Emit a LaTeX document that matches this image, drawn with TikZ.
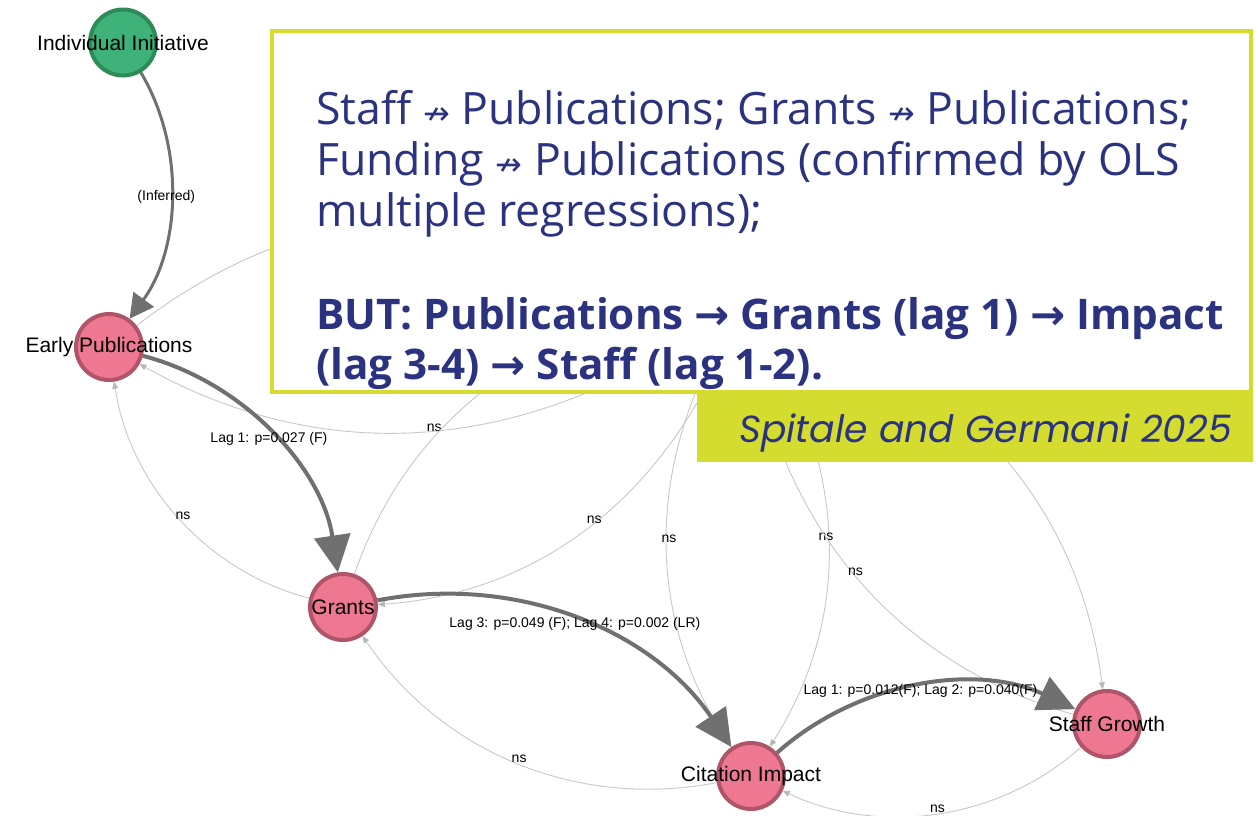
\documentclass[tikz,border=0pt]{standalone}
\usepackage{fontspec}
\setmainfont{Liberation Sans}
\newfontfamily\bodyfont{Open Sans}
\newfontfamily\citefont{Poppins}
\newfontfamily\symfont{DejaVu Sans}
\usetikzlibrary{arrows.meta,calc}

\definecolor{nodepink}{HTML}{EE7891}
\definecolor{nodepinkline}{HTML}{B05468}
\definecolor{nodegreen}{HTML}{3FB27A}
\definecolor{nodegreenline}{HTML}{2E8B57}
\definecolor{strongedge}{HTML}{707070}
\definecolor{weakedge}{HTML}{C8C8C8}
\definecolor{weaktip}{HTML}{B8B8B8}
\definecolor{lime}{HTML}{D4DC30}
\definecolor{navy}{HTML}{2B3380}

\pgfdeclarelayer{bglayer}
\pgfdeclarelayer{edgelayer}
\pgfsetlayers{bglayer,edgelayer,main}

\tikzset{
  vertex/.style={circle, minimum size=66pt, line width=4pt, inner sep=0pt},
  pinkv/.style={vertex, fill=nodepink, draw=nodepinkline},
  greenv/.style={vertex, fill=nodegreen, draw=nodegreenline},
  vname/.style={font=\fontsize{21}{24}\selectfont, text=black, inner sep=0pt},
  sigedge/.style={draw=strongedge, line width=4pt, -{Triangle[length=37pt,width=36pt]}},
  infedge/.style={draw=strongedge, line width=3pt, -{Triangle[length=24pt,width=25pt]}},
  nsedge/.style={draw=weakedge, line width=0.9pt, -{Triangle[length=7pt,width=6pt,color=weaktip]}},
  elabel/.style={font=\fontsize{14}{16}\selectfont, text=black, inner sep=0pt},
  bodytext/.style={font=\bodyfont\fontsize{44.6}{50}\selectfont, text=navy, inner sep=0pt, anchor=base west},
  boldtext/.style={font=\bodyfont\bfseries\fontsize{42.2}{50}\selectfont, text=navy, inner sep=0pt, anchor=base west},
}

% curved connector: quadratic arc bulging to the left of the direction of travel
\newcommand\bentedge[3]{%
  \coordinate (bm) at ($(#2)!0.5!(#3)$);
  \coordinate (bc) at ($(bm)!0.66!90:(#3)$);
  \coordinate (bmid) at ($(bm)!0.5!(bc)$);
  \draw[#1] (#2) .. controls ($(#2)!0.6667!(bc)$) and ($(#3)!0.6667!(bc)$) .. (#3);
}
\newcommand\edgetext[2]{\node[elabel] (#1) at (bmid) {#2};}
\newcommand\notto{{\symfont\fontsize{32}{32}\selectfont ↛}}
\newcommand\boldto{{\symfont\bfseries\fontsize{42}{42}\selectfont →}}

\begin{document}
\begin{tikzpicture}[x=1pt,y=-1pt]
\useasboundingbox (0,0) rectangle (1256,815);
\begin{pgfonlayer}{bglayer}
  \fill[white] (0,0) rectangle (1256,815);
\end{pgfonlayer}

% vertices
\coordinate (hub) at (744,300);
\node[greenv] (ii) at (123,42.5) {};
\node[pinkv] (ep) at (109,347) {};
\node[pinkv] (gr) at (343,607) {};
\node[pinkv] (ci) at (751,776) {};
\node[pinkv] (sg) at (1107,724) {};

\node[vname] (ii-t) at (ii) {Individual Initiative};
\node[vname] (ep-t) at (ep) {Early Publications};
\node[vname] (gr-t) at (gr) {Grants};
\node[vname] (ci-t) at (ci) {Citation Impact};
\node[vname] (sg-t) at (sg) {Staff Growth};

\begin{pgfonlayer}{edgelayer}
  % non-significant links
  \bentedge{nsedge}{gr}{ep} \edgetext{l-grep}{ns}
  \bentedge{nsedge}{ci}{gr} \edgetext{l-cigr}{ns}
  \bentedge{nsedge}{sg}{ci} \edgetext{l-sgci}{ns}
  \bentedge{nsedge}{hub}{ep} \edgetext{l-hubep}{ns}
  \bentedge{nsedge}{ep}{hub}
  \bentedge{nsedge}{gr}{hub}
  \bentedge{nsedge}{hub}{gr} \edgetext{l-hubgr}{ns}
  \bentedge{nsedge}{ci}{hub} \edgetext{l-cihub}{ns}
  \bentedge{nsedge}{hub}{ci} \edgetext{l-hubci}{ns}
  \bentedge{nsedge}{sg}{hub} \edgetext{l-sghub}{ns}
  \bentedge{nsedge}{hub}{sg}
  % significant links
  \bentedge{infedge}{ii}{ep} \edgetext{l-iiep}{(Inferred)}
  \bentedge{sigedge}{ep}{gr} \edgetext{l-epgr}{Lag 1: p=0.027 (F)}
  \bentedge{sigedge}{gr}{ci} \edgetext{l-grci}{Lag 3: p=0.049 (F); Lag 4: p=0.002 (LR)}
  \bentedge{sigedge}{ci}{sg} \edgetext{l-cisg}{Lag 1: p=0.012(F); Lag 2: p=0.040(F)}
\end{pgfonlayer}

% summary panel
\draw[lime, line width=4pt, fill=white] (272,31) rectangle (1251,392);
\fill[lime] (697,394) rectangle (1253,462);

\node[bodytext] (line1) at (316,124) {Staff \notto{} Publications; Grants \notto{} Publications;};
\node[bodytext] (line2) at (316,175) {Funding \notto{} Publications (confirmed by OLS};
\node[bodytext] (line3) at (316,226) {multiple regressions);};
\node[boldtext] (line4) at (316,329) {BUT: Publications \boldto{} Grants (lag 1) \boldto{} Impact};
\node[boldtext] (line5) at (316,379) {(lag 3-4) \boldto{} Staff (lag 1-2).};

\node[font=\citefont\itshape\fontsize{37.7}{44}\selectfont, text=navy, inner sep=0pt, anchor=base east] (cite) at (1232,442) {Spitale and Germani 2025};
\end{tikzpicture}
\end{document}
